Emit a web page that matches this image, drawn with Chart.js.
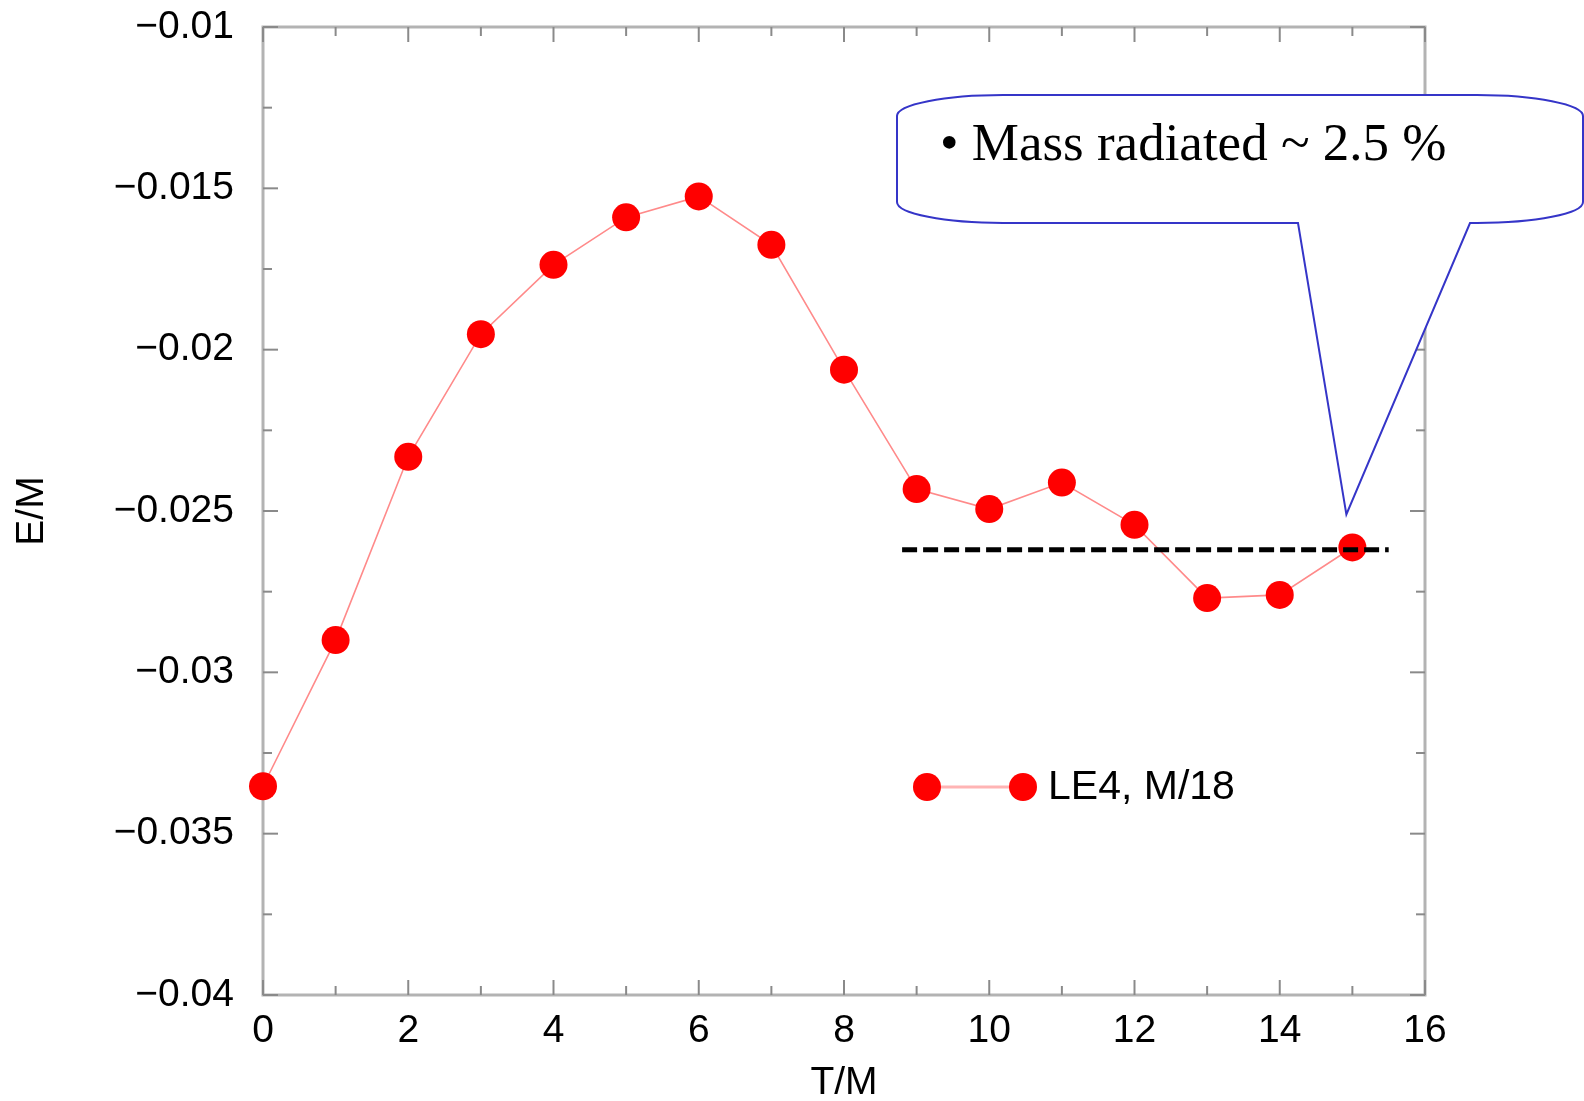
<!DOCTYPE html>
<html>
<head>
<meta charset="utf-8">
<title>E/M vs T/M</title>
<script src="https://cdn.jsdelivr.net/npm/chart.js@4/dist/chart.umd.min.js"></script>
<style>
  html, body { margin: 0; padding: 0; background: #ffffff; }
  canvas { display: block; }
</style>
</head>
<body>
<canvas id="chart" width="1584" height="1101"></canvas>
<script>
// Time samples (T/M) and energy (E/M) of the LE4, M/18 run
const times = [0, 1, 2, 3, 4, 5, 6, 7, 8, 9, 10, 11, 12, 13, 14, 15];
const energy = [-0.03353, -0.02900, -0.02332, -0.01952, -0.01737, -0.01590, -0.01525, -0.01675,
                -0.02062, -0.02432, -0.02494, -0.02412, -0.02543, -0.02770, -0.02760, -0.02613];
const seriesLabel = 'LE4, M/18';

// Reference level drawn as a dashed line
const levelTimes = [8.8, 15.5];
const levelEnergy = [-0.0262, -0.0262];

// Axis ranges, steps and titles
const xRange = [0, 16];
const yRange = [-0.04, -0.01];
const xStep = 1;      // label every 2nd step
const yStep = 0.0025; // label every 2nd step
const xTitle = 'T/M';
const yTitle = 'E/M';

const calloutText = '\u2022 Mass radiated ~ 2.5 %';

const AXIS_FONT = "'Liberation Sans', Arial, Helvetica, sans-serif";
const SERIF_FONT = "'Liberation Serif', 'Times New Roman', Times, serif";

function fmtMinus(v) {
  const s = String(Number(v.toFixed(5)));
  return s.replace('-', '\u2212');
}

// Frame on all four sides with inward tick marks taken from the scales
const framePlugin = {
  id: 'frame',
  beforeDatasetsDraw(chart) {
    const { ctx, chartArea: a, scales: { x, y } } = chart;
    ctx.save();
    ctx.strokeStyle = '#b3b3b3';
    ctx.lineWidth = 3;
    ctx.strokeRect(a.left, a.top, a.right - a.left, a.bottom - a.top);
    ctx.strokeStyle = '#8a8a8a';
    ctx.lineWidth = 2;
    const seg = (x1, y1, x2, y2) => { ctx.beginPath(); ctx.moveTo(x1, y1); ctx.lineTo(x2, y2); ctx.stroke(); };
    x.ticks.forEach(t => {
      const px = x.getPixelForValue(t.value);
      const major = Math.round(t.value / xStep) % 2 === 0;
      const len = major ? 15 : 9;
      seg(px, a.bottom, px, a.bottom - len);
      seg(px, a.top, px, a.top + len);
    });
    y.ticks.forEach(t => {
      const py = y.getPixelForValue(t.value);
      const major = Math.abs(Math.round(t.value / yStep)) % 2 === 0;
      const len = major ? 15 : 9;
      seg(a.left, py, a.left + len, py);
      seg(a.right, py, a.right - len, py);
    });
    ctx.restore();
  }
};

// Legend entry placed inside the plot
const legendPlugin = {
  id: 'insideLegend',
  afterDatasetsDraw(chart) {
    const { ctx } = chart;
    const ds = chart.data.datasets[0];
    const x1 = 927, x2 = 1023, yy = 787;
    ctx.save();
    ctx.strokeStyle = '#ffb4b4';
    ctx.lineWidth = 3;
    ctx.beginPath(); ctx.moveTo(x1, yy); ctx.lineTo(x2, yy); ctx.stroke();
    ctx.fillStyle = ds.pointBackgroundColor;
    [x1, x2].forEach(cx => { ctx.beginPath(); ctx.arc(cx, yy, ds.pointRadius, 0, Math.PI * 2); ctx.fill(); });
    ctx.fillStyle = '#000';
    ctx.font = '41px ' + AXIS_FONT;
    ctx.textAlign = 'left';
    ctx.textBaseline = 'middle';
    ctx.fillText(ds.label, 1048, yy + 1);
    ctx.restore();
  }
};

// Speech-bubble annotation pointing at the last sample
const calloutPlugin = {
  id: 'callout',
  afterDraw(chart) {
    const { ctx, scales: { x, y } } = chart;
    const n = times.length - 1;
    const tipX = x.getPixelForValue(times[n]) - 6;
    const tipY = y.getPixelForValue(energy[n]) - 33;
    const L = 897, R = 1583, T = 95, B = 223, rx = 106, ry = 21;
    const baseL = 1298, baseR = 1470;
    ctx.save();
    ctx.beginPath();
    ctx.moveTo(L + rx, T);
    ctx.lineTo(R - rx, T);
    ctx.ellipse(R - rx, T + ry, rx, ry, 0, -Math.PI / 2, 0);
    ctx.lineTo(R, B - ry);
    ctx.ellipse(R - rx, B - ry, rx, ry, 0, 0, Math.PI / 2);
    ctx.lineTo(baseR, B);
    ctx.lineTo(tipX, tipY);
    ctx.lineTo(baseL, B);
    ctx.lineTo(L + rx, B);
    ctx.ellipse(L + rx, B - ry, rx, ry, 0, Math.PI / 2, Math.PI);
    ctx.lineTo(L, T + ry);
    ctx.ellipse(L + rx, T + ry, rx, ry, 0, Math.PI, Math.PI * 1.5);
    ctx.closePath();
    ctx.fillStyle = '#ffffff';
    ctx.fill();
    ctx.strokeStyle = '#3535c8';
    ctx.lineWidth = 2;
    ctx.stroke();
    ctx.fillStyle = '#000';
    ctx.font = '53px ' + SERIF_FONT;
    ctx.textAlign = 'left';
    ctx.textBaseline = 'alphabetic';
    ctx.fillText(calloutText, 940, 160);
    ctx.restore();
  }
};

new Chart(document.getElementById('chart'), {
  type: 'line',
  data: {
    datasets: [
      {
        label: seriesLabel,
        data: times.map((t, i) => ({ x: t, y: energy[i] })),
        borderColor: '#ff8a8a',
        borderWidth: 1.6,
        pointRadius: 14,
        pointHoverRadius: 14,
        pointBackgroundColor: '#ff0000',
        pointBorderWidth: 0,
        pointStyle: 'circle',
        tension: 0,
        clip: false,
        order: 1
      },
      {
        label: 'level',
        data: levelTimes.map((t, i) => ({ x: t, y: levelEnergy[i] })),
        borderColor: '#000000',
        borderWidth: 5,
        borderDash: [15, 6],
        pointRadius: 0,
        tension: 0,
        clip: false,
        order: 0
      }
    ]
  },
  options: {
    responsive: false,
    animation: false,
    devicePixelRatio: 1,
    layout: { padding: { top: 27, right: 159, left: 0, bottom: 0 } },
    plugins: {
      legend: { display: false },
      tooltip: { enabled: false },
      title: { display: false }
    },
    scales: {
      x: {
        type: 'linear',
        position: 'bottom',
        min: xRange[0],
        max: xRange[1],
        grid: { display: false, drawTicks: false },
        border: { display: false },
        ticks: {
          stepSize: xStep,
          autoSkip: false,
          maxRotation: 0,
          padding: 13,
          color: '#000',
          font: { family: AXIS_FONT, size: 39 },
          callback: v => (Math.round(v / xStep) % 2 === 0 ? String(v) : '')
        },
        title: {
          display: true,
          text: xTitle,
          color: '#000',
          font: { family: AXIS_FONT, size: 39, lineHeight: 0.92 },
          padding: { top: 0, bottom: 0 }
        },
        afterFit(scale) {
          scale.height = 106;
          scale.paddingLeft = 0;
          scale.paddingRight = 0;
        }
      },
      y: {
        type: 'linear',
        position: 'left',
        min: yRange[0],
        max: yRange[1],
        grid: { display: false, drawTicks: false },
        border: { display: false },
        ticks: {
          stepSize: yStep,
          autoSkip: false,
          padding: 29,
          color: '#000',
          font: { family: AXIS_FONT, size: 39 },
          callback: v => (Math.abs(Math.round(v / yStep)) % 2 === 0 ? fmtMinus(v) : '')
        },
        title: {
          display: true,
          text: yTitle,
          color: '#000',
          font: { family: AXIS_FONT, size: 39, lineHeight: 1.2 },
          padding: { top: 9, bottom: 0 }
        },
        afterFit(scale) {
          scale.width = 263;
          scale.paddingTop = 0;
          scale.paddingBottom = 0;
        }
      }
    }
  },
  plugins: [framePlugin, legendPlugin, calloutPlugin]
});
</script>
</body>
</html>
